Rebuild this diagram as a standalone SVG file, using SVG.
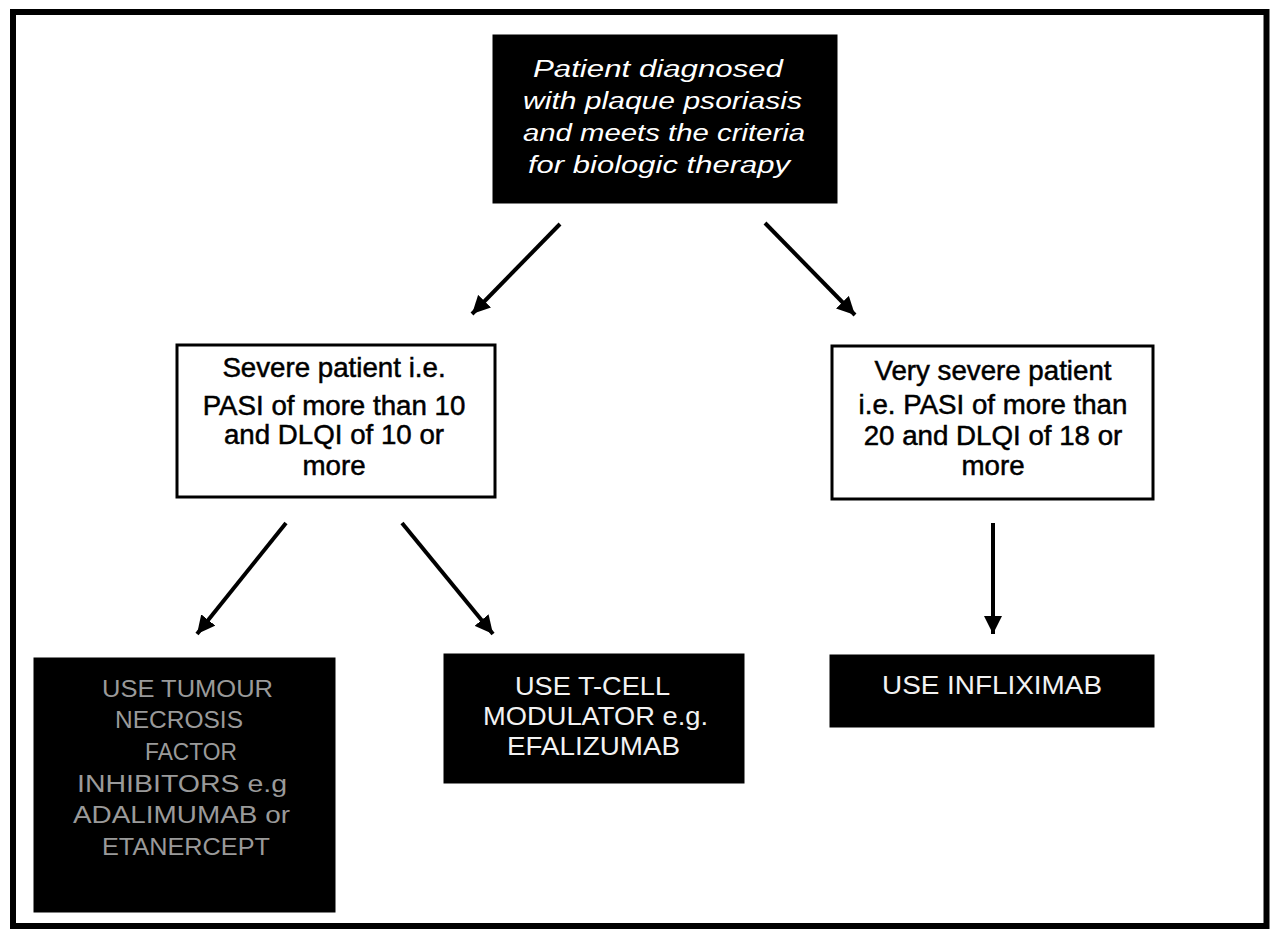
<svg xmlns="http://www.w3.org/2000/svg" width="1270" height="929" viewBox="0 0 1270 929">
<defs>
<style>
.frame{fill:none;stroke:#000;stroke-width:6}
.dark{fill:#000;stroke:#000;stroke-width:1}
.light{fill:#fff;stroke:#000;stroke-width:3}
.it{font-family:"Liberation Sans",Arial,sans-serif;font-style:italic;font-size:23px;fill:#fff}
.crit{font-family:"Liberation Sans",Arial,sans-serif;font-size:27.7px;fill:#000;stroke:#000;stroke-width:0.5;text-anchor:middle}
.use{font-family:"Liberation Sans",Arial,sans-serif;font-size:25px;fill:#f2f2f2}
.faint{font-family:"Liberation Sans",Arial,sans-serif;font-size:23px;fill:#9a9a9a}
.conn{stroke:#000;stroke-width:4;fill:none;marker-end:url(#ah)}
</style>
<marker id="ah" markerUnits="userSpaceOnUse" markerWidth="20" markerHeight="18" refX="18" refY="9" orient="auto">
<path d="M0,0 L18,9 L0,18 Z" fill="#000"/>
</marker>
</defs>
<rect width="1270" height="929" fill="#fff"/>
<rect class="frame" x="13" y="12" width="1253.5" height="914"/>

<g id="start">
<rect class="dark" x="493" y="35" width="344" height="168"/>
<text class="it" x="533" y="77" textLength="250" lengthAdjust="spacingAndGlyphs">Patient diagnosed</text>
<text class="it" x="523" y="109" textLength="279" lengthAdjust="spacingAndGlyphs">with plaque psoriasis</text>
<text class="it" x="523" y="141" textLength="282" lengthAdjust="spacingAndGlyphs">and meets the criteria</text>
<text class="it" x="528" y="173" textLength="262" lengthAdjust="spacingAndGlyphs">for biologic therapy</text>
</g>

<g id="severe">
<rect class="light" x="177" y="345" width="318" height="152"/>
<text class="crit" x="334" y="377">Severe patient i.e.</text>
<text class="crit" x="334" y="415">PASI of more than 10</text>
<text class="crit" x="334" y="444">and DLQI of 10 or</text>
<text class="crit" x="334" y="475">more</text>
</g>

<g id="very-severe">
<rect class="light" x="832" y="346" width="321" height="153"/>
<text class="crit" x="993" y="380">Very severe patient</text>
<text class="crit" x="993" y="414">i.e. PASI of more than</text>
<text class="crit" x="993" y="445">20 and DLQI of 18 or</text>
<text class="crit" x="993" y="475">more</text>
</g>

<g id="tnf">
<rect class="dark" x="34" y="658" width="301" height="254"/>
<text class="faint" x="102" y="697" textLength="171" lengthAdjust="spacingAndGlyphs">USE TUMOUR</text>
<text class="faint" x="115" y="728" textLength="128" lengthAdjust="spacingAndGlyphs">NECROSIS</text>
<text class="faint" x="145" y="760" textLength="92" lengthAdjust="spacingAndGlyphs">FACTOR</text>
<text class="faint" x="77" y="792" textLength="210" lengthAdjust="spacingAndGlyphs">INHIBITORS e.g</text>
<text class="faint" x="73" y="823" textLength="217" lengthAdjust="spacingAndGlyphs">ADALIMUMAB or</text>
<text class="faint" x="102" y="855" textLength="168" lengthAdjust="spacingAndGlyphs">ETANERCEPT</text>
</g>

<g id="tcell">
<rect class="dark" x="444" y="654" width="300" height="129"/>
<text class="use" x="515" y="695" textLength="155" lengthAdjust="spacingAndGlyphs">USE T-CELL</text>
<text class="use" x="483" y="725" textLength="225" lengthAdjust="spacingAndGlyphs">MODULATOR e.g.</text>
<text class="use" x="507" y="755" textLength="173" lengthAdjust="spacingAndGlyphs">EFALIZUMAB</text>
</g>

<g id="infliximab">
<rect class="dark" x="830" y="655" width="324" height="72"/>
<text class="use" x="882" y="694" textLength="220" lengthAdjust="spacingAndGlyphs">USE INFLIXIMAB</text>
</g>

<g id="connectors">
<line class="conn" x1="560" y1="224" x2="472" y2="314"/>
<line class="conn" x1="765" y1="223" x2="855" y2="315"/>
<line class="conn" x1="286" y1="523" x2="197" y2="634"/>
<line class="conn" x1="402" y1="523" x2="493" y2="634"/>
<line class="conn" x1="993" y1="523" x2="993" y2="634"/>
</g>
</svg>
